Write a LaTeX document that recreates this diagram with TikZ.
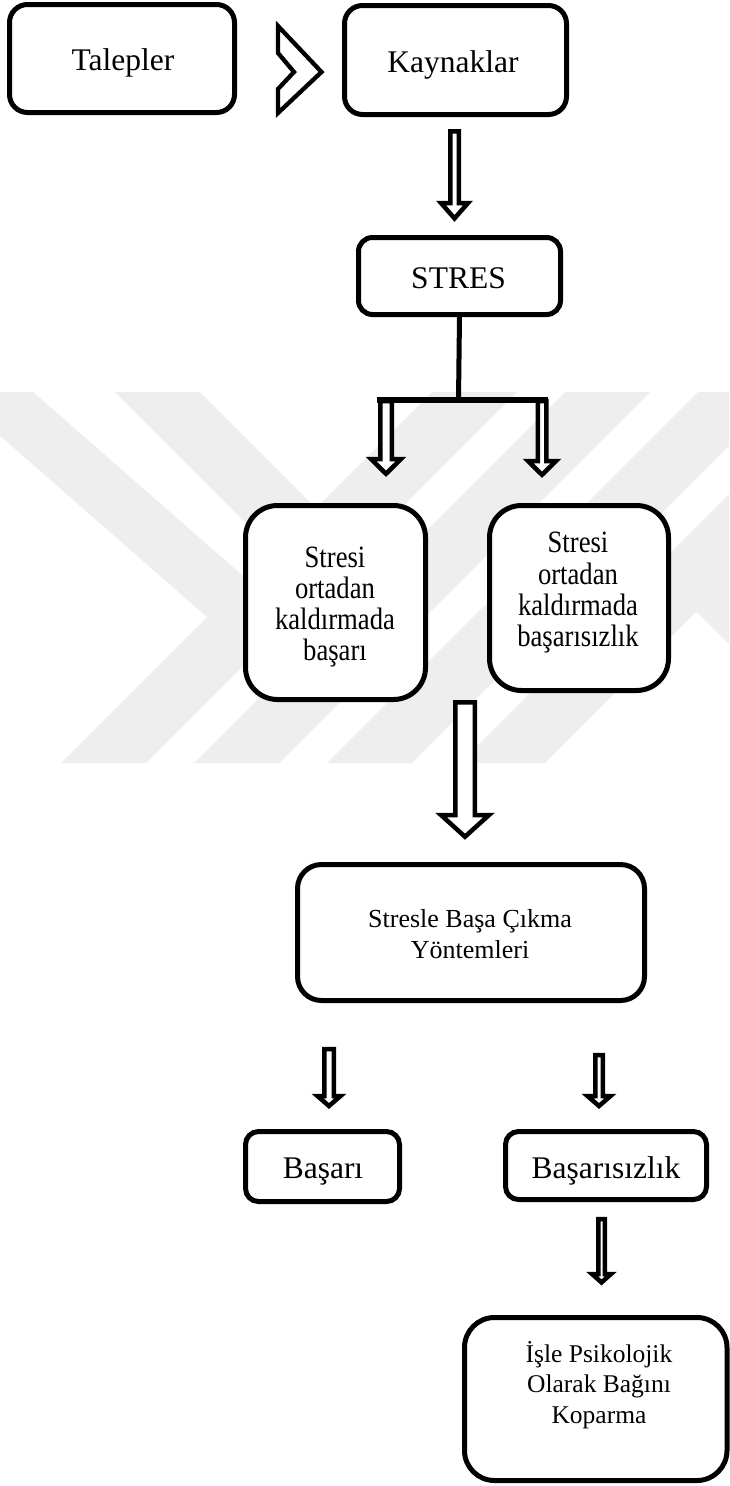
\documentclass[tikz,border=0pt]{standalone}
\usepackage{fontspec}
\setmainfont{Liberation Serif}
\newfontfamily\narrowserif[FakeStretch=0.86]{Liberation Serif}
\definecolor{wmgray}{RGB}{238,238,238}
\tikzset{
  box/.style={draw, line width=5pt, fill=white, rounded corners=#1, inner sep=0pt},
  box/.default=18pt,
  lbl/.style={anchor=base, inner sep=0pt, text=black},
  big/.style={font=\fontsize{31.5}{36}\selectfont},
  mid/.style={font=\narrowserif\fontsize{31}{36}\selectfont},
  small/.style={font=\fontsize{26}{30}\selectfont},
  blockarrow/.style={draw, line width=4.5pt, fill=white, line join=miter, miter limit=10},
  band/.style={fill=wmgray},
}
% hollow block arrow pointing down: x, top, shaft half-width, head half-width, head base, tip
\newcommand\downblock[6]{%
  \draw[blockarrow] ({#1-#3},#2) -- ({#1+#3},#2) -- ({#1+#3},#5) -- ({#1+#4},#5)
    -- (#1,#6) -- ({#1-#4},#5) -- ({#1-#3},#5) -- cycle;}
\begin{document}
\begin{tikzpicture}[x=1pt, y=-1pt]
\useasboundingbox (0,0) rectangle (729,1486);
\fill[white] (0,0) rectangle (729,1486);

% pale background emblem made of diagonal bands
\begin{scope}
  \clip (0,392) rectangle (729,763);
  \fill[band] (-50,392) -- (33,392) -- (290,617) -- (207,617) -- cycle;
  \fill[band] (115,392) -- (200,392) -- (425,617) -- (340,617) -- cycle;
  \fill[band] (61,763) -- (146,763) -- (517,392) -- (432,392) -- cycle;
  \fill[band] (194,763) -- (279,763) -- (650,392) -- (565,392) -- cycle;
  \fill[band] (327,763) -- (412,763) -- (783,392) -- (698,392) -- cycle;
  \fill[band] (460,763) -- (545,763) -- (916,392) -- (831,392) -- cycle;
  \fill[band] (654,569) -- (739,569) -- (933,763) -- (848,763) -- cycle;
\end{scope}

% boxes
\node[box, minimum width=225pt, minimum height=108pt] (tal) at (122,58.5) {};
\node[box, minimum width=222pt, minimum height=109pt] (kay) at (455.5,60) {};
\node[box=14pt, minimum width=202pt, minimum height=77pt] (stres) at (459.5,276) {};
\node[box=32pt, minimum width=180pt, minimum height=194pt] (succ) at (335.5,602.5) {};
\node[box=32pt, minimum width=179pt, minimum height=185pt] (fail) at (579,598) {};
\node[box=24pt, minimum width=347pt, minimum height=136pt] (cope) at (471,932.5) {};
\node[box=13pt, minimum width=154pt, minimum height=70pt] (bas) at (322.5,1166.5) {};
\node[box=13pt, minimum width=201pt, minimum height=68pt] (basiz) at (606,1165.5) {};
\node[box=30pt, minimum width=262.5pt, minimum height=163pt] (isle) at (595.75,1399) {};

% texts
\node[lbl, big] (tal-t) at (123,70) {Talepler};
\node[lbl, big] (kay-t) at (453,72) {Kaynaklar};
\node[lbl, big] (stres-t) at (458.5,288) {STRES};
\node[lbl, mid] (succ-1) at (335,567) {Stresi};
\node[lbl, mid] (succ-2) at (335,598) {ortadan};
\node[lbl, mid] (succ-3) at (335,629) {kaldırmada};
\node[lbl, mid] (succ-4) at (335,660) {başarı};
\node[lbl, mid] (fail-1) at (578,552) {Stresi};
\node[lbl, mid] (fail-2) at (578,584) {ortadan};
\node[lbl, mid] (fail-3) at (578,615) {kaldırmada};
\node[lbl, mid] (fail-4) at (578,646) {başarısızlık};
\node[lbl, small] (cope-1) at (470,927) {Stresle Başa Çıkma};
\node[lbl, small] (cope-2) at (470,958) {Yöntemleri};
\node[lbl, big] (bas-t) at (323,1178) {Başarı};
\node[lbl, big] (basiz-t) at (606,1178) {Başarısızlık};
\node[lbl, font=\fontsize{25.5}{30}\selectfont] (isle-1) at (599,1362) {İşle Psikolojik};
\node[lbl, font=\fontsize{25.5}{30}\selectfont] (isle-2) at (599,1392) {Olarak Bağını};
\node[lbl, font=\fontsize{25.5}{30}\selectfont] (isle-3) at (599,1423) {Koparma};

% chevron between the two top boxes
\draw[line width=4.3pt, line join=miter, fill=white]
  (278,26) -- (278,53) -- (294,72) -- (278,89) -- (278,113) -- (321.5,72) -- cycle;

% Kaynaklar -> STRES
\downblock{454.5}{131.3}{4.25}{13.5}{203}{218.4}

% STRES splits into two branches
\coordinate (split) at (458.5,400);
\coordinate (barL) at (377,400);
\coordinate (barR) at (548,400);
\draw[line width=5pt] (stres.south) -- (split);
\draw[line width=6pt] (barL) -- (barR);
\downblock{386}{401}{5.75}{15}{459}{473.8}
\downblock{542}{401}{4.25}{14}{461}{474.8}

% both outcomes -> coping methods
\downblock{465}{702.3}{9.75}{24}{815}{836.7}

% coping methods -> success / failure
\downblock{329}{1049}{4.75}{11.5}{1096}{1106}
\downblock{599}{1055}{3.75}{11.5}{1096}{1106}

% failure -> psychological detachment
\downblock{601.5}{1219}{3.25}{9.5}{1274}{1282.4}
\end{tikzpicture}
\end{document}
